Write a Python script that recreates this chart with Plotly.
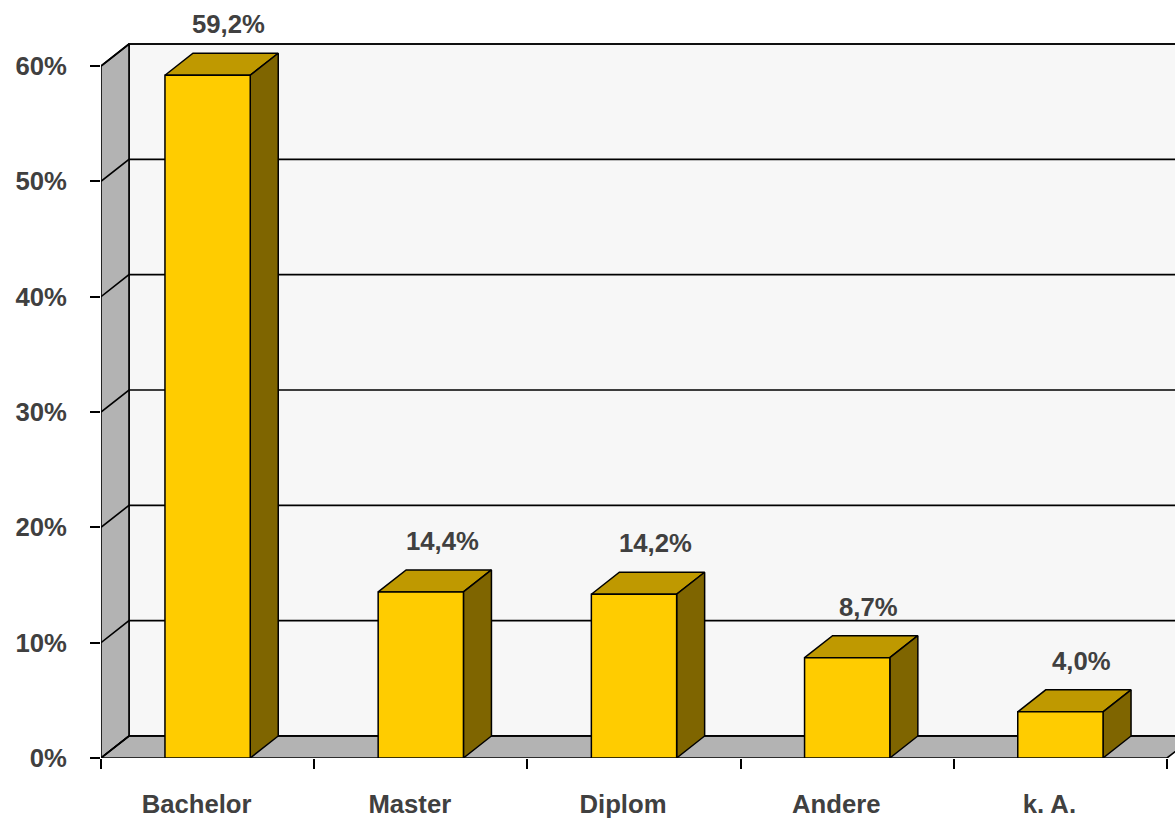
import plotly.graph_objects as go

# data
categories = ['Bachelor', 'Master', 'Diplom', 'Andere', 'k. A.']
shares = [59.2, 14.4, 14.2, 8.7, 4.0]
y_ticks = [0, 10, 20, 30, 40, 50, 60]
y_tick_labels = ['0%', '10%', '20%', '30%', '40%', '50%', '60%']

# colours
FRONT = '#ffcc00'
TOP = '#bf9900'
SIDE = '#7f6500'
WALL = '#b3b3b3'
BACK = '#f7f7f7'
TEXT = '#404040'
FONT = 'Arial, Liberation Sans, sans-serif'

# geometry of the pseudo-3d frame (in axis units)
X_MIN = -0.5
X_MAX = X_MIN + 5 * 1074 / 1066
Y_MAX = 750 / (692 / 60)
DX = 28 / 213.2      # depth offset along x
DY = 22 / (692 / 60)  # depth offset along y
BAR_W = 0.4
n = len(categories)
x_pos = list(range(n))
y_top = y_ticks[-1]

fig = go.Figure()


def poly(xs, ys, fill, lw=1.6):
    fig.add_trace(go.Scatter(
        x=xs, y=ys, mode='lines', fill='toself', fillcolor=fill,
        line=dict(color='black', width=lw), hoverinfo='skip', showlegend=False
    ))


# back wall
poly([X_MIN + DX, n - 0.5 + DX, n - 0.5 + DX, X_MIN + DX, X_MIN + DX],
     [DY, DY, y_top + DY, y_top + DY, DY], BACK)
# left wall
poly([X_MIN, X_MIN + DX, X_MIN + DX, X_MIN, X_MIN],
     [0, DY, y_top + DY, y_top, 0], WALL)
# floor
poly([X_MIN, n - 0.5, n - 0.5 + DX, X_MIN + DX, X_MIN],
     [0, 0, DY, DY, 0], WALL)

# gridlines on left wall and back wall
gx, gy = [], []
for v in y_ticks:
    gx += [X_MIN, X_MIN + DX, n - 0.5 + DX, None]
    gy += [v, v + DY, v + DY, None]
fig.add_trace(go.Scatter(x=gx, y=gy, mode='lines', line=dict(color='black', width=1.6),
                         hoverinfo='skip', showlegend=False))

# bars: front, top and side faces
fx, fy, tx, ty, sx, sy = [], [], [], [], [], []
for xi, v in zip(x_pos, shares):
    l, r = xi - BAR_W / 2, xi + BAR_W / 2
    fx += [l, r, r, l, l, None]
    fy += [0, 0, v, v, 0, None]
    tx += [l, r, r + DX, l + DX, l, None]
    ty += [v, v, v + DY, v + DY, v, None]
    sx += [r, r + DX, r + DX, r, r, None]
    sy += [0, DY, v + DY, v, 0, None]
poly(tx, ty, TOP, 1.5)
poly(sx, sy, SIDE, 1.5)
poly(fx, fy, FRONT, 1.5)

# value labels
for xi, v in zip(x_pos, shares):
    fig.add_annotation(
        x=xi + 0.1, y=v + DY, yshift=29, showarrow=False,
        text=f'{v:.1f}'.replace('.', ',') + '%',
        font=dict(family=FONT, size=25.7, color=TEXT, weight='bold')
    )

fig.update_layout(
    width=1175, height=821,
    margin=dict(l=101, r=0, t=8, b=63),
    paper_bgcolor='white', plot_bgcolor='white',
    showlegend=False,
    xaxis=dict(
        range=[X_MIN, X_MAX], tickvals=x_pos, ticktext=categories,
        ticks='', showgrid=False, zeroline=False, showline=False,
        ticklabelshift=-11, ticklabelstandoff=28,
        tickfont=dict(family=FONT, size=25.7, color=TEXT, weight='bold'),
        minor=dict(tickvals=[i - 0.5 for i in range(n + 1)], ticks='outside',
                   ticklen=10, tickwidth=2, tickcolor='black', showgrid=False),
    ),
    yaxis=dict(
        range=[0, Y_MAX], tickvals=y_ticks, ticktext=y_tick_labels,
        ticks='outside', ticklen=10, tickwidth=2, tickcolor='black',
        showgrid=False, zeroline=False, showline=False,
        ticklabelstandoff=18,
        tickfont=dict(family=FONT, size=25.7, color=TEXT, weight='bold'),
    ),
)

fig.write_html('out.html', config={'displayModeBar': False},
               post_script="document.body.style.margin='0';")
